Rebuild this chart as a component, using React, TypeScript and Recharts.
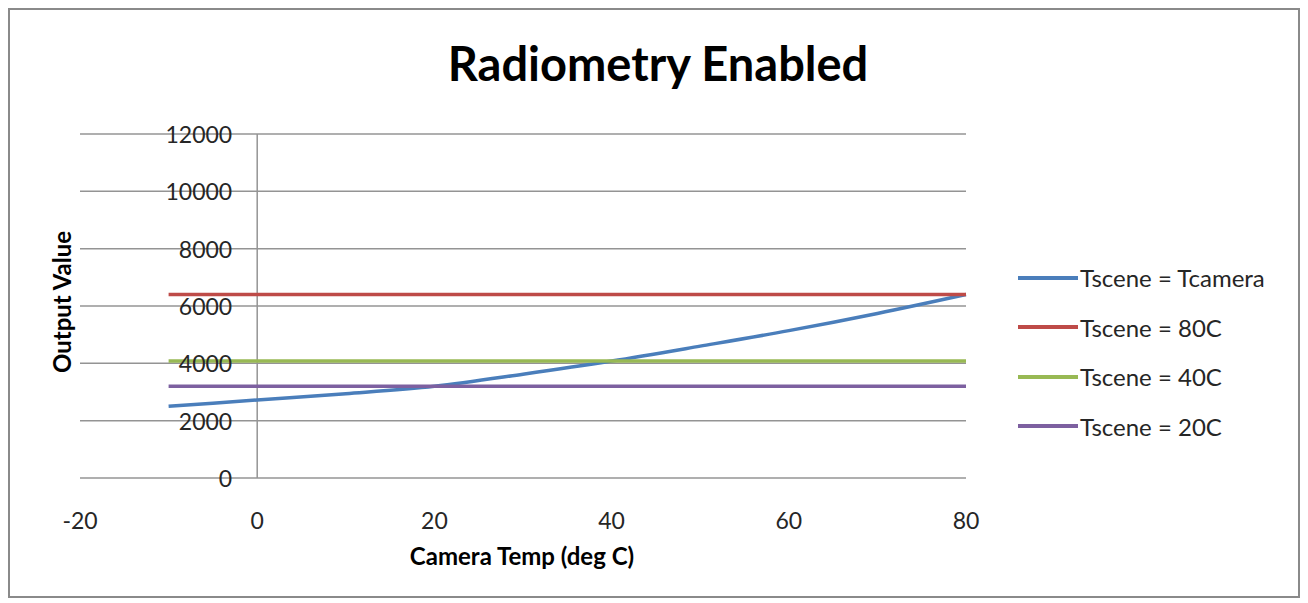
import { LineChart, Line, XAxis, YAxis, CartesianGrid, ReferenceLine } from 'recharts';

// values
const cameraTemp = [-10, 0, 10, 20, 30, 40, 50, 60, 70, 80];
const tsceneTcamera = [2500, 2720, 2940, 3200, 3620, 4080, 4600, 5140, 5740, 6400];
const tscene80 = [6400, 6400, 6400, 6400, 6400, 6400, 6400, 6400, 6400, 6400];
const tscene40 = [4080, 4080, 4080, 4080, 4080, 4080, 4080, 4080, 4080, 4080];
const tscene20 = [3200, 3200, 3200, 3200, 3200, 3200, 3200, 3200, 3200, 3200];
const xTicks = [-20, 0, 20, 40, 60, 80];
const yTicks = [0, 2000, 4000, 6000, 8000, 10000, 12000];

const seriesNames = ['Tscene = Tcamera', 'Tscene = 80C', 'Tscene = 40C', 'Tscene = 20C'];
const seriesKeys = ['tcam', 't80', 't40', 't20'];
const seriesColors = ['#4A7EBB', '#BE4B48', '#98B954', '#7D60A0'];

const data = cameraTemp.map((t, i) => ({
  temp: t,
  tcam: tsceneTcamera[i],
  t80: tscene80[i],
  t40: tscene40[i],
  t20: tscene20[i],
}));

const CHART_W = 1288;
const CHART_H = 586;
const YAXIS_W = 10;
const MARGIN = { top: 124, right: 332, left: 70 - YAXIS_W, bottom: 88 };
const XAXIS_H = 30;
const X_MIN = -20;
const X_MAX = 80;

const plotLeft = MARGIN.left + YAXIS_W;
const plotWidth = CHART_W - plotLeft - MARGIN.right;
const plotBottom = CHART_H - MARGIN.bottom - XAXIS_H;
const xZero = plotLeft + ((0 - X_MIN) / (X_MAX - X_MIN)) * plotWidth;

const FONT = 'Lato, "Open Sans", sans-serif';

function YTick({ y, payload }: any) {
  return (
    <text x={xZero - 25} y={y} textAnchor="end" dominantBaseline="central" fontSize={23} fill="#262626" fontFamily={FONT}>
      {payload.value}
    </text>
  );
}

function XTick({ x, payload }: any) {
  return (
    <text x={x} y={plotBottom + 42} textAnchor="middle" dominantBaseline="central" fontSize={23} fill="#262626" fontFamily={FONT}>
      {payload.value}
    </text>
  );
}

export default function App() {
  return (
    <div
      style={{
        position: 'relative',
        width: CHART_W,
        height: CHART_H,
        border: '2px solid #8a8a8a',
        background: '#fff',
        fontFamily: FONT,
      }}
    >
      <LineChart width={CHART_W} height={CHART_H} data={data} margin={MARGIN}>
        <CartesianGrid horizontal vertical={false} stroke="#949494" strokeWidth={1.5} />
        <XAxis
          type="number"
          dataKey="temp"
          domain={[X_MIN, X_MAX]}
          ticks={xTicks}
          height={XAXIS_H}
          axisLine={false}
          tickLine={false}
          tick={<XTick />}
          interval={0}
        />
        <YAxis
          type="number"
          domain={[0, 12000]}
          ticks={yTicks}
          width={YAXIS_W}
          axisLine={false}
          tickLine={false}
          tick={<YTick />}
          interval={0}
        />
        <ReferenceLine x={0} stroke="#949494" strokeWidth={1.5} />
        {seriesKeys.map((k, i) => (
          <Line
            key={k}
            type="monotone"
            dataKey={k}
            name={seriesNames[i]}
            stroke={seriesColors[i]}
            strokeWidth={3.5}
            dot={false}
            isAnimationActive={false}
          />
        ))}
      </LineChart>

      <div
        style={{
          position: 'absolute',
          left: 0,
          width: 1296,
          top: 27,
          textAlign: 'center',
          fontSize: 47,
          fontWeight: 700,
          color: '#000',
          lineHeight: '52px',
        }}
      >
        Radiometry Enabled
      </div>

      <div
        style={{
          position: 'absolute',
          left: 512 - 150,
          width: 300,
          top: 532,
          textAlign: 'center',
          fontSize: 24,
          fontWeight: 700,
          color: '#000',
          lineHeight: '28px',
        }}
      >
        Camera Temp (deg C)
      </div>

      <div
        style={{
          position: 'absolute',
          left: 52 - 100,
          top: 292 - 14,
          width: 200,
          textAlign: 'center',
          fontSize: 24,
          fontWeight: 700,
          color: '#000',
          lineHeight: '28px',
          transform: 'rotate(-90deg)',
        }}
      >
        Output Value
      </div>

      <div style={{ position: 'absolute', left: 1008, top: 243 }}>
        {seriesNames.map((name, i) => (
          <div key={name} style={{ display: 'flex', alignItems: 'center', height: 49.5 }}>
            <div style={{ width: 60, height: 4, background: seriesColors[i] }} />
            <span style={{ fontSize: 24, color: '#262626', marginLeft: 2 }}>{name}</span>
          </div>
        ))}
      </div>
    </div>
  );
}
